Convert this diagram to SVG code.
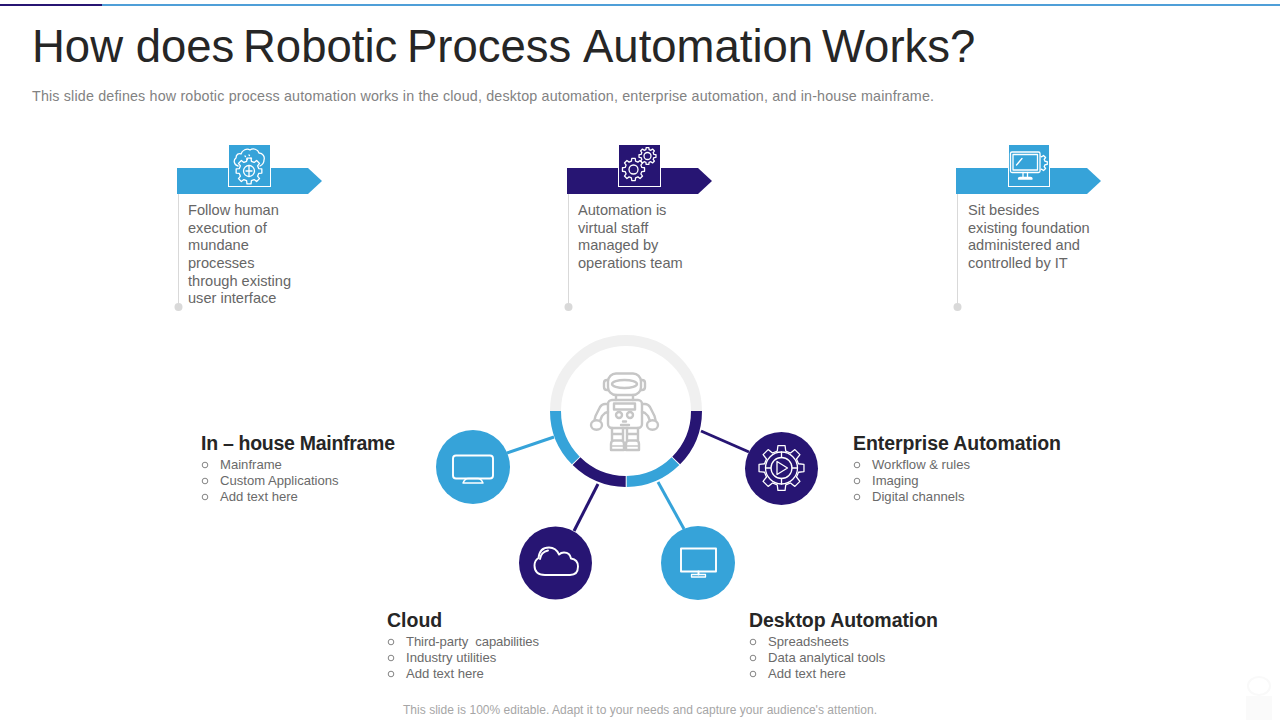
<svg xmlns="http://www.w3.org/2000/svg" width="1280" height="720" viewBox="0 0 1280 720">
<style>
text{font-family:"Liberation Sans",Arial,sans-serif}
.title{font-size:45.5px;fill:#262626}
.sub{font-size:14.3px;fill:#828282}
.body{font-size:14.6px;fill:#666}
.head{font-size:19.5px;font-weight:700;fill:#262626}
.li{font-size:13.1px;fill:#6a6a6a;white-space:pre}
.blt{fill:none;stroke:#666;stroke-width:.8}
.foot{font-size:12px;fill:#a6a6a6}
.vl{stroke:#d9d9d9;stroke-width:1;fill:none}
.dot{fill:#d9d9d9}
.ic{fill:none;stroke:#fff;stroke-width:1.3;stroke-linejoin:round;stroke-linecap:round}
.ic2{fill:none;stroke:#fff;stroke-width:1.9;stroke-linejoin:round;stroke-linecap:round}
.rb{fill:none;stroke:#c6c6c6;stroke-width:2.4;stroke-linejoin:round;stroke-linecap:round}
.blue{fill:#36a3d9}.navy{fill:#271573}
.sq{stroke:#fff;stroke-width:1}
.con{fill:none;stroke-width:3}
.seg{fill:none;stroke-width:11}
.ns{vector-effect:non-scaling-stroke}
</style>
<defs>
<path id="gear8" class="ns" d="M-2.42-9.7-2.03-12.84H2.03L2.42-9.7 5.15-8.57 7.64-10.52 10.52-7.64 8.57-5.15 9.7-2.42 12.84-2.03V2.03L9.7 2.42 8.57 5.15 10.52 7.64 7.64 10.52 5.15 8.57 2.42 9.7 2.03 12.84H-2.03L-2.42 9.7-5.15 8.57-7.64 10.52-10.52 7.64-8.57 5.15-9.7 2.42-12.84 2.03V-2.03L-9.7-2.42-8.57-5.15-10.52-7.64-7.64-10.52-5.15-8.57z"/>
<clipPath id="gearclip"><rect x="1040.500" y="150" width="10" height="26"/></clipPath>
</defs>

<g id="top-bar">
<rect x="0" y="4" width="102" height="2" fill="#271573"/>
<rect x="102" y="4" width="1178" height="2" fill="#4f9fd8"/>
</g>

<text class="title" y="62"><tspan x="32">How does</tspan> <tspan x="243">Robotic</tspan> <tspan x="407">Process</tspan> <tspan x="583">Automation</tspan> <tspan x="822">Works?</tspan></text>
<text class="sub" x="32" y="101" textLength="902" lengthAdjust="spacing">This slide defines how robotic process automation works in the cloud, desktop automation, enterprise automation, and in-house mainframe.</text>

<g id="connectors">
<line class="con" x1="507" y1="453" x2="554" y2="437" stroke="#36a3d9"/>
<line class="con" x1="574" y1="531" x2="598" y2="484" stroke="#271573"/>
<line class="con" x1="684" y1="529" x2="658" y2="482" stroke="#36a3d9"/>
<line class="con" x1="749" y1="452" x2="701" y2="431" stroke="#271573"/>
<line class="vl" x1="178.500" y1="194" x2="178.500" y2="307"/>
<line class="vl" x1="568.500" y1="194" x2="568.500" y2="307"/>
<line class="vl" x1="957.500" y1="194" x2="957.500" y2="307"/>
</g>

<g id="step-1">
<path class="blue" d="M177 168H308L322 181 308 194H177z"/>
<rect class="blue sq" x="228.500" y="144.500" width="42" height="42"/>
<g class="ic" stroke-width="1.100">
<path d="M238 166c-4-1-5-6-2-8 0-4 3-5 5-4 1-4 6-6 9-4 3-2 8-1 9 3 4 0 6 4 5 7 0 3-2 5-4 6"/>
<use href="#gear8" transform="translate(249,171) scale(1)"/>
<circle cx="249" cy="171" r="5.500"/>
<path d="M249 165.500V176.500M246 171H252"/>
<path d="M245 156l.5.5M249 155l.5.5M247 159l.5.5M251 158l.5.5"/>
</g>
<text class="body" x="188" y="215">Follow human</text>
<text class="body" x="188" y="233">execution of</text>
<text class="body" x="188" y="250">mundane</text>
<text class="body" x="188" y="268">processes</text>
<text class="body" x="188" y="286">through existing</text>
<text class="body" x="188" y="303">user interface</text>
<circle class="dot" cx="178.500" cy="307" r="4"/>
</g>

<g id="step-2">
<path class="navy" d="M567 168H698L712 181 698 194H567z"/>
<rect class="navy sq" x="618.500" y="144.500" width="42" height="42"/>
<g class="ic">
<use href="#gear8" transform="translate(633.500,169.500) scale(.86)"/>
<circle cx="633.500" cy="169.500" r="4.500"/>
<use href="#gear8" transform="translate(647.500,156) scale(.66)"/>
<circle cx="647.500" cy="156" r="3.500"/>
</g>
<text class="body" x="578" y="215">Automation is</text>
<text class="body" x="578" y="233">virtual staff</text>
<text class="body" x="578" y="250">managed by</text>
<text class="body" x="578" y="268">operations team</text>
<circle class="dot" cx="568.500" cy="307" r="4"/>
</g>

<g id="step-3">
<path class="blue" d="M956 168H1087L1101 181 1087 194H956z"/>
<rect class="blue sq" x="1008.500" y="144.500" width="41" height="42"/>
<g class="ic">
<rect x="1010.500" y="152" width="29.500" height="20.500" rx="1.500"/>
<rect x="1013" y="154.500" width="24.500" height="15.500"/>
<path d="M1016.500 165l5.500-6.500M1023 172.500v5M1027.500 172.500v5M1018.500 178.500q0-1 1.500-1h10.500q1.500 0 1.500 1v.5h-13.500z"/>
<g clip-path="url(#gearclip)"><use href="#gear8" transform="translate(1038,163) scale(.72)"/></g>
</g>
<text class="body" x="968" y="215">Sit besides</text>
<text class="body" x="968" y="233">existing foundation</text>
<text class="body" x="968" y="250">administered and</text>
<text class="body" x="968" y="268">controlled by IT</text>
<circle class="dot" cx="957.500" cy="307" r="4"/>
</g>

<g id="hub">
<path class="seg" d="M555.500 411A70.500 70.500 0 0 1 696.500 411" stroke="#f0f0f0"/>
<path class="seg" d="M555.500 411A70.500 70.500 0 0 0 575.800 460.500" stroke="#36a3d9"/>
<path class="seg" d="M576.500 461.200A70.500 70.500 0 0 0 625.700 481.500" stroke="#271573"/>
<path class="seg" d="M626.700 481.500A70.500 70.500 0 0 0 675.500 461.200" stroke="#36a3d9"/>
<path class="seg" d="M676.200 460.500A70.500 70.500 0 0 0 696.500 411" stroke="#271573"/>
<g id="robot" class="rb">
<rect x="608" y="373.500" width="33" height="21.500" rx="8"/>
<path d="M608 380h-1q-3 0-3 3v4q0 3 3 3h1M641 380h1q3 0 3 3v4q0 3-3 3h-1"/>
<ellipse cx="624.500" cy="384" rx="12.500" ry="4"/>
<path d="M616 395v5M633 395v5"/>
<rect x="608" y="400" width="34" height="28" rx="4"/>
<rect x="614" y="403.500" width="21" height="6"/>
<circle cx="619" cy="415" r="3"/><circle cx="630" cy="415" r="3"/>
<path d="M621 425h8M623 421.500h3"/>
<path d="M608 404h-3q-3 0-5 3l-4.500 9-1 4M608 412l-3 1-3 3-2 5M642 404h3q3 0 5 3l4.500 9 1 4M642 412l3 1 3 3 2 5"/>
<ellipse cx="596.500" cy="425" rx="5.500" ry="4.800"/><ellipse cx="652.500" cy="425" rx="5.500" ry="4.800"/>
<path d="M612 428v12M623 428v12M627 428v12M638 428v12M612 434h11M627 434h11"/>
<path d="M611 450v-6q0-3.500 3-3.500h7q3 0 3 3.500v6zM626 450v-6q0-3.500 3-3.500h7q3 0 3 3.500v6z"/>
<path d="M611 446h13M626 446h13" stroke-width="1.500"/>
</g>
</g>

<g id="node-mainframe">
<circle class="blue" cx="473" cy="467" r="37"/>
<g class="ic2">
<rect x="453" y="455.500" width="40" height="23" rx="3"/>
<path d="M463 483q2-4.500 5-4.500h10q3 0 5 4.500z" stroke-width="1.500"/>
</g>
<text class="head" x="201" y="450" textLength="194" lengthAdjust="spacing">In – house Mainframe</text>
<circle class="blt" cx="205" cy="465" r="2.800"/><text class="li" x="220" y="469">Mainframe</text>
<circle class="blt" cx="205" cy="481" r="2.800"/><text class="li" x="220" y="485">Custom Applications</text>
<circle class="blt" cx="205" cy="497" r="2.800"/><text class="li" x="220" y="501">Add text here</text>
</g>

<g id="node-cloud">
<circle class="navy" cx="555.500" cy="563" r="36.500"/>
<g class="ic2">
<path d="M545 575h25q8 0 8-8.500 0-7-7-8-1-6-7-6-3 0-5 2-3-7-10-7-9.500 0-10.500 10.500-4 2.500-4 7.500 0 9.500 10.500 9.500z"/>
<path d="M540 559q1-7 8-8.500"/>
</g>
<text class="head" x="387" y="627">Cloud</text>
<circle class="blt" cx="391" cy="642" r="2.800"/><text class="li" x="406" y="646" textLength="133" lengthAdjust="spacing">Third-party  capabilities</text>
<circle class="blt" cx="391" cy="658" r="2.800"/><text class="li" x="406" y="662">Industry utilities</text>
<circle class="blt" cx="391" cy="674" r="2.800"/><text class="li" x="406" y="678">Add text here</text>
</g>

<g id="node-desktop">
<circle class="blue" cx="698" cy="563" r="37"/>
<g class="ic2">
<rect x="681" y="548.500" width="35" height="23"/>
<path d="M698.500 571.500v3"/>
<rect x="691.500" y="574.500" width="14" height="2.500" stroke-width="1.300"/>
</g>
<text class="head" x="749" y="627" textLength="189" lengthAdjust="spacing">Desktop Automation</text>
<circle class="blt" cx="753" cy="642" r="2.800"/><text class="li" x="768" y="646">Spreadsheets</text>
<circle class="blt" cx="753" cy="658" r="2.800"/><text class="li" x="768" y="662">Data analytical tools</text>
<circle class="blt" cx="753" cy="674" r="2.800"/><text class="li" x="768" y="678">Add text here</text>
</g>

<g id="node-enterprise">
<circle class="navy" cx="781.500" cy="468.500" r="36.500"/>
<g class="ic" stroke-width="1.100">
<use href="#gear8" transform="translate(781.500,468) scale(1.750)"/>
<circle cx="781.500" cy="468" r="16"/>
<circle cx="781.500" cy="468" r="10.500"/>
<path d="M781.500 452v5.500M781.500 478.500v5.500M765.500 468h5.500M792 468h5.500"/>
<path d="M777 461.500l10.500 6.500-10.500 6.500z"/>
</g>
<text class="head" x="853" y="450" textLength="208" lengthAdjust="spacing">Enterprise Automation</text>
<circle class="blt" cx="857" cy="465" r="2.800"/><text class="li" x="872" y="469">Workflow &amp; rules</text>
<circle class="blt" cx="857" cy="481" r="2.800"/><text class="li" x="872" y="485">Imaging</text>
<circle class="blt" cx="857" cy="497" r="2.800"/><text class="li" x="872" y="501">Digital channels</text>
</g>

<text class="foot" x="403" y="714" textLength="474" lengthAdjust="spacing">This slide is 100% editable. Adapt it to your needs and capture your audience's attention.</text>

<g id="watermark" fill="#fafafa">
<ellipse cx="1259" cy="686" rx="11" ry="9" fill="none" stroke="#f9f9f9" stroke-width="2"/>
<rect x="1246" y="696" width="26" height="24"/>
</g>
</svg>
